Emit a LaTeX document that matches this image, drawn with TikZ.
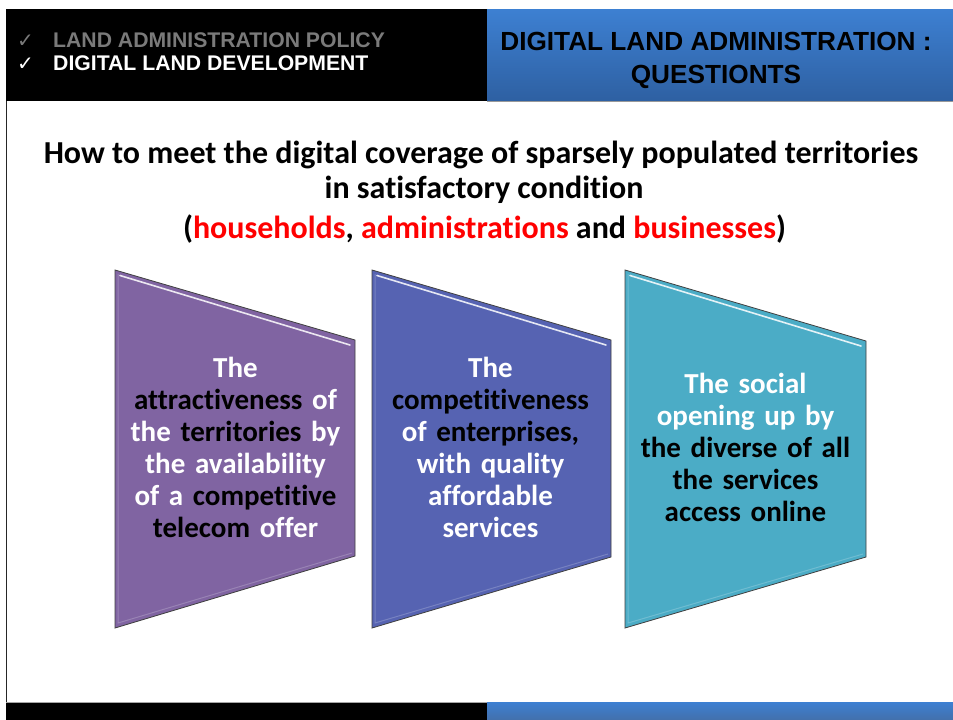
\documentclass[tikz,border=0pt]{standalone}
\usepackage{fontspec}
\setmainfont[Ligatures=NoCommon]{Carlito}
\newfontfamily\arialf{Liberation Sans}
\newfontfamily\symf{DejaVu Sans}
\definecolor{hdrblueT}{HTML}{3D80D2}
\definecolor{hdrblueB}{HTML}{2E60A2}
\definecolor{purp}{HTML}{8064A2}
\definecolor{indig}{HTML}{5663B2}
\definecolor{tealc}{HTML}{4BACC6}
\definecolor{titred}{HTML}{FF0000}
\definecolor{grayhdr}{HTML}{7A7A7A}
\definecolor{edgec}{HTML}{404040}
\newcommand{\wtxt}[1]{\textcolor{white}{#1}}
\newcommand{\btxt}[1]{\textcolor{black}{#1}}
\newcommand{\rtxt}[1]{\textcolor{titred}{#1}}
\tikzset{
  panel/.style={draw=edgec, line width=0.8pt},
  gloss/.style={draw=white, line width=1.6pt, opacity=0.85, line cap=round},
  paneltext/.style={text width=236pt, align=center, anchor=base, inner sep=0pt,
    font=\bfseries\fontsize{29}{32}\selectfont},
  hdrleft/.style={anchor=base west, inner sep=0pt, font=\arialf\bfseries\fontsize{21.2}{25}\selectfont},
  hdrcheck/.style={anchor=base west, inner sep=0pt, font=\symf\fontsize{20}{22}\selectfont},
  hdrright/.style={anchor=base, inner sep=0pt, font=\arialf\bfseries\fontsize{26.2}{31}\selectfont},
  titletext/.style={anchor=base, inner sep=0pt, font=\bfseries\fontsize{32}{35}\selectfont}
}
\begin{document}
\begin{tikzpicture}[x=1pt,y=-1pt]
\useasboundingbox (0,0) rectangle (953,720);
\fill[white] (0,0) rectangle (953,720);
% frame
\draw[line width=1.4pt, black!85] (6.5,100) -- (6.5,702);
% header bars
\fill[black] (6,9) rectangle (487,101);
\shade[top color=hdrblueT, bottom color=hdrblueB] (487,9) rectangle (953,101);
\draw[line width=0.6pt, black!40] (487,101) -- (953,101);
% footer bars
\fill[black] (6,702) rectangle (487,720);
\shade[top color=hdrblueT, bottom color=hdrblueB!90] (487,702) rectangle (953,720);
\draw[line width=0.8pt, black!35] (6,702) -- (487,702);

% header left
\node[hdrcheck, text=grayhdr] (chk1) at (17,47.5) {✓};
\node[hdrleft, text=grayhdr] (pol) at (53,47.5) {LAND ADMINISTRATION POLICY};
\node[hdrcheck, text=white] (chk2) at (17,70.5) {✓};
\node[hdrleft, text=white] (dev) at (53,70.5) {DIGITAL LAND DEVELOPMENT};
% header right
\node[hdrright] (hr1) at (716,50) {DIGITAL LAND ADMINISTRATION :};
\node[hdrright] (hr2) at (716,83) {QUESTIONTS};

% title
\node[titletext] (title1) at (481,163) {How to meet the digital coverage of sparsely populated territories};
\node[titletext] (title2) at (484,198) {in satisfactory condition};
\node[titletext] (subtitle) at (484.5,238) {(\rtxt{households}, \rtxt{administrations} and \rtxt{businesses})};

% panels
\coordinate (p1a) at (115,270); \coordinate (p1b) at (355,340);
\coordinate (p1c) at (355,556); \coordinate (p1d) at (115,628);
\coordinate (p2a) at (372,270); \coordinate (p2b) at (611,340);
\coordinate (p2c) at (611,557); \coordinate (p2d) at (372,628);
\coordinate (p3a) at (625,270); \coordinate (p3b) at (866,341);
\coordinate (p3c) at (866,557); \coordinate (p3d) at (625,628);

\fill[purp] (p1a) -- (p1b) -- (p1c) -- (p1d) -- cycle;
\fill[indig] (p2a) -- (p2b) -- (p2c) -- (p2d) -- cycle;
\fill[tealc] (p3a) -- (p3b) -- (p3c) -- (p3d) -- cycle;

% subtle bevels
\draw[line width=1pt, white, opacity=0.2] (118,274) -- (118,623) -- (352,553);
\draw[line width=1pt, white, opacity=0.2] (375,274) -- (375,623) -- (608,554);
\draw[line width=1pt, white, opacity=0.2] (628,274) -- (628,623) -- (863,554);

\draw[gloss] (120,275.5) -- (350,345);
\draw[gloss] (377,275.5) -- (606,345);
\draw[gloss] (630,275.5) -- (861,346);

\draw[panel] (p1a) -- (p1b) -- (p1c) -- (p1d) -- cycle;
\draw[panel] (p2a) -- (p2b) -- (p2c) -- (p2d) -- cycle;
\draw[panel] (p3a) -- (p3b) -- (p3c) -- (p3d) -- cycle;

% panel texts
\node[paneltext] (t1) at (235.5,377) {\wtxt{The}\\ \btxt{attractiveness} \wtxt{of}\\ \wtxt{the} \btxt{territories} \wtxt{by}\\ \wtxt{the availability}\\ \wtxt{of a} \btxt{competitive}\\ \btxt{telecom} \wtxt{offer}};
\node[paneltext] (t2) at (490.5,377) {\wtxt{The}\\ \btxt{competitiveness}\\ \wtxt{of} \btxt{enterprises,}\\ \wtxt{with quality}\\ \wtxt{affordable}\\ \wtxt{services}};
\node[paneltext] (t3) at (745.5,393) {\wtxt{The social}\\ \wtxt{opening up by}\\ \btxt{the diverse of all}\\ \btxt{the services}\\ \btxt{access online}};
\end{tikzpicture}
\end{document}
